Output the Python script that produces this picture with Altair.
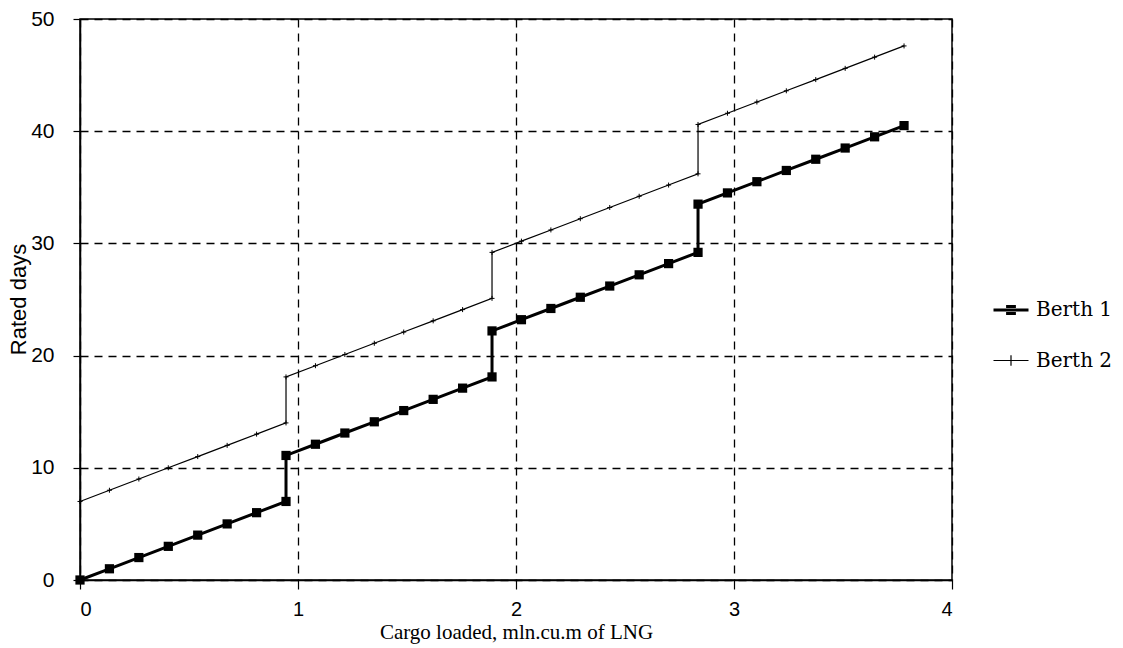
import altair as alt
import pandas as pd

series_names = ["Berth 1", "Berth 2"]

cargo_x = [0.000, 0.135, 0.270, 0.405, 0.540, 0.675, 0.810, 0.945,
           0.945, 1.080, 1.215, 1.350, 1.485, 1.620, 1.755, 1.890,
           1.890, 2.025, 2.160, 2.295, 2.430, 2.565, 2.700, 2.835,
           2.835, 2.970, 3.105, 3.240, 3.375, 3.510, 3.645, 3.780]

berth1_days = [0, 1, 2, 3, 4, 5, 6, 7,
               11.1, 12.1, 13.1, 14.1, 15.1, 16.1, 17.1, 18.1,
               22.2, 23.2, 24.2, 25.2, 26.2, 27.2, 28.2, 29.2,
               33.5, 34.5, 35.5, 36.5, 37.5, 38.5, 39.5, 40.5]

berth2_days = [7, 8, 9, 10, 11, 12, 13, 14,
               18.1, 19.1, 20.1, 21.1, 22.1, 23.1, 24.1, 25.1,
               29.2, 30.2, 31.2, 32.2, 33.2, 34.2, 35.2, 36.2,
               40.6, 41.6, 42.6, 43.6, 44.6, 45.6, 46.6, 47.6]

x_ticks = [0, 1, 2, 3, 4]
y_ticks = [0, 10, 20, 30, 40, 50]

rows = []
for name, ys in zip(series_names, [berth1_days, berth2_days]):
    for i, (xv, yv) in enumerate(zip(cargo_x, ys)):
        rows.append({"series": name, "cargo": xv, "days": yv, "idx": i})
df = pd.DataFrame(rows)

x_enc = alt.X(
    "cargo:Q",
    scale=alt.Scale(domain=[0, 4], nice=False, zero=False),
    axis=alt.Axis(
        values=x_ticks, format="d", title="Cargo loaded, mln.cu.m of LNG",
        labelFont="Liberation Sans", labelFontSize=20, labelColor="black",
        labelPadding=10, tickSize=9, tickColor="black", tickWidth=1.2,
        domainColor="black", domainWidth=1.5,
        grid=True, gridColor="black", gridDash=[8, 6], gridWidth=1.3, gridOpacity=1,
        titleFont="Liberation Serif", titleFontSize=21, titleFontWeight="normal",
        titleColor="black", titleY=52, titleBaseline="middle",
    ),
)
y_enc = alt.Y(
    "days:Q",
    scale=alt.Scale(domain=[0, 50], nice=False),
    axis=alt.Axis(
        values=y_ticks, format="d", title="Rated days",
        labelFont="Liberation Sans", labelFontSize=21, labelColor="black",
        labelPadding=19, tickSize=7, tickColor="black", tickWidth=1.2,
        domainColor="black", domainWidth=1.5,
        grid=True, gridColor="black", gridDash=[8, 6], gridWidth=1.3, gridOpacity=1,
        titleFont="Liberation Sans", titleFontSize=22, titleFontWeight="normal",
        titleColor="black", titleX=-50, titleY=280, titleAngle=-90,
    ),
)

base = alt.Chart(df)

line1 = base.transform_filter(alt.datum.series == "Berth 1").mark_line(
    color="black", strokeWidth=3
).encode(x=x_enc, y=y_enc, order="idx:Q")

line2 = base.transform_filter(alt.datum.series == "Berth 2").mark_line(
    color="black", strokeWidth=1.2
).encode(x=x_enc, y=y_enc, order="idx:Q")

pts1 = base.transform_filter(alt.datum.series == "Berth 1").mark_point(
    shape="square", filled=True, color="black", size=85, opacity=1
).encode(x=x_enc, y=y_enc)

pts2 = base.transform_filter(alt.datum.series == "Berth 2").mark_point(
    shape="M-1,0H1M0,-1V1", filled=False, color="black", size=25,
    strokeWidth=1, opacity=1
).encode(x=x_enc, y=y_enc)

legend_paths = [
    "M-1,0H1M-0.28,-0.2H0.28M-0.28,0H0.28M-0.28,0.2H0.28",
    "M-1,0H1M0,-0.3V0.3",
]
leg = alt.Legend(
    title=None, orient="none", legendX=912, legendY=272, direction="vertical",
    labelFont="DejaVu Serif", labelFontSize=20, labelColor="black",
    symbolSize=1225, rowPadding=22, labelOffset=6,
    symbolStrokeColor="black", symbolOpacity=1,
)
legend_layer = base.transform_filter("datum.idx < 0").mark_point(
    filled=False, color="black", opacity=1
).encode(
    x=x_enc, y=y_enc,
    shape=alt.Shape("series:N", scale=alt.Scale(domain=series_names, range=legend_paths), legend=leg),
    strokeWidth=alt.StrokeWidth("series:N", scale=alt.Scale(domain=series_names, range=[3, 1.2]), legend=leg),
)

chart = alt.layer(line2, line1, pts2, pts1, legend_layer).properties(
    width=872, height=561,
    autosize=alt.AutoSizeParams(type="none"),
    padding={"left": 80, "top": 19, "right": 171, "bottom": 68},
    background="white",
).configure_view(stroke="black", strokeWidth=1.5)

chart.save("out.html", embed_options={"renderer": "svg", "actions": False})
